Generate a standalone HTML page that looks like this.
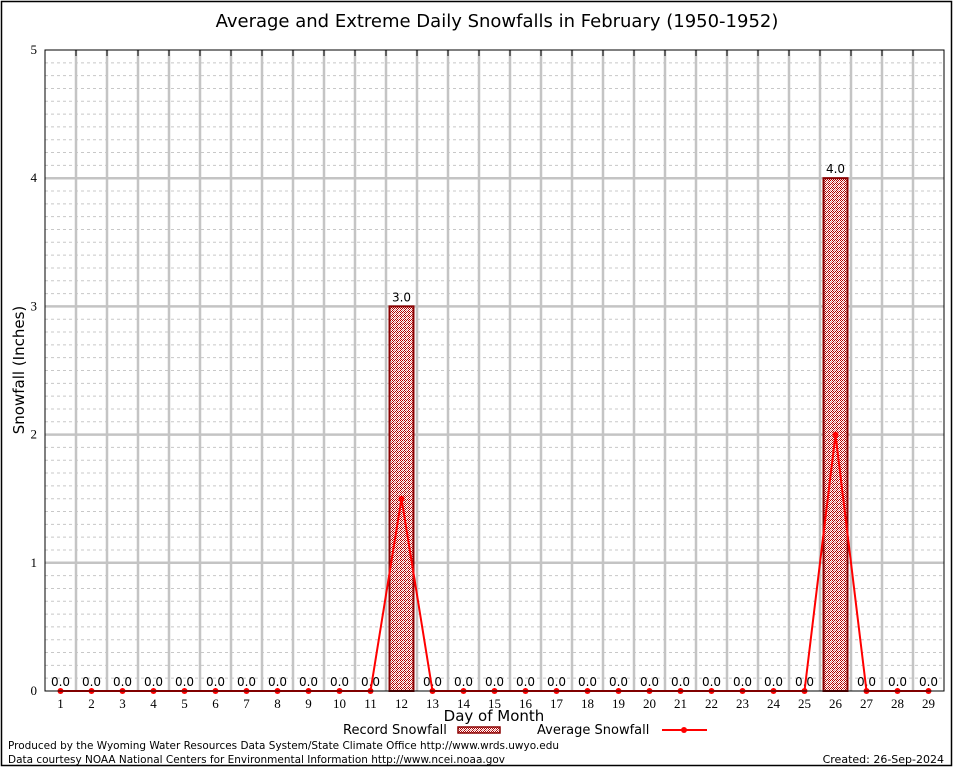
<!DOCTYPE html>
<html><head><meta charset="utf-8">
<style>
html,body{margin:0;padding:0;background:#fff;}
svg{display:block;font-family:"DejaVu Sans","Liberation Sans",sans-serif;}
</style></head>
<body>
<svg id="chart" width="954" height="768" xmlns="http://www.w3.org/2000/svg">
<defs>
<pattern id="dots" width="4" height="4" patternUnits="userSpaceOnUse">
<rect width="4" height="4" fill="#fff"/>
<rect x="0" y="0" width="1" height="1" fill="#b00000"/>
<rect x="2" y="0" width="1" height="1" fill="#b00000"/>
<rect x="1" y="1" width="1" height="1" fill="#b00000"/>
<rect x="3" y="1" width="1" height="1" fill="#e08080"/>
<rect x="0" y="2" width="1" height="1" fill="#b00000"/>
<rect x="2" y="2" width="1" height="1" fill="#e08080"/>
<rect x="1" y="3" width="1" height="1" fill="#b00000"/>
<rect x="3" y="3" width="1" height="1" fill="#b00000"/>
</pattern>
</defs>
<rect x="1.5" y="1.5" width="950" height="764" fill="none" stroke="#000" stroke-width="1.5"/>
<text x="497" y="27" font-size="18" text-anchor="middle">Average and Extreme Daily Snowfalls in February (1950-1952)</text>
<g id="grid"></g>
<g id="marks"></g>
<rect x="45" y="50" width="899" height="641" fill="none" stroke="#000" stroke-width="1"/>
<text transform="translate(24,370) rotate(-90)" font-size="15" text-anchor="middle">Snowfall (Inches)</text>
<text x="494" y="721" font-size="15" text-anchor="middle">Day of Month</text>
<g>
<text x="343" y="734" font-size="13">Record Snowfall</text>
<rect x="458" y="727" width="42" height="6" fill="url(#dots)" stroke="#8b0000" stroke-width="1.5"/>
</g>
<g>
<text x="537" y="734" font-size="13">Average Snowfall</text>
<line x1="662" y1="730" x2="707" y2="730" stroke="#f00" stroke-width="2"/>
<circle cx="684" cy="730" r="3" fill="#f00"/>
</g>
<text x="8" y="749" font-size="11" textLength="551" lengthAdjust="spacingAndGlyphs">Produced by the Wyoming Water Resources Data System/State Climate Office http://www.wrds.uwyo.edu</text>
<text x="8" y="763" font-size="11" textLength="497" lengthAdjust="spacingAndGlyphs">Data courtesy NOAA National Centers for Environmental Information http://www.ncei.noaa.gov</text>
<text x="944" y="763" font-size="11" text-anchor="end">Created: 26-Sep-2024</text>
</svg>
<script>
const days = [1,2,3,4,5,6,7,8,9,10,11,12,13,14,15,16,17,18,19,20,21,22,23,24,25,26,27,28,29];
const recordSnow = [0,0,0,0,0,0,0,0,0,0,0,3.0,0,0,0,0,0,0,0,0,0,0,0,0,0,4.0,0,0,0];
const avgSnow = [0,0,0,0,0,0,0,0,0,0,0,1.5,0,0,0,0,0,0,0,0,0,0,0,0,0,2.0,0,0,0];
const yTicks = [0,1,2,3,4,5];

const NS = "http://www.w3.org/2000/svg";
const L=45,R=944,T=50,B=691,yMax=5;
const xs = d => L + (d-0.5)*(R-L)/days.length;
const ys = v => B - v*(B-T)/yMax;
function mk(tag, attrs, parent){const e=document.createElementNS(NS,tag);for(const k in attrs)e.setAttribute(k,attrs[k]);parent.appendChild(e);return e;}
const grid=document.getElementById('grid'), marks=document.getElementById('marks');

for(let i=1;i<yMax*10;i++){
  if(i%10===0) continue;
  const l=mk('line',{x1:L,x2:R,y1:ys(i/10),y2:ys(i/10),stroke:'#c8c8c8','stroke-dasharray':'3,3','stroke-width':1},grid);
  
  
}
for(let i=1;i<days.length;i++){
  const x=xs(i+0.5);
  const l=mk('line',{x1:x,x2:x,y1:T,y2:B,stroke:'#c4c4c4','stroke-width':2.5},grid);
  
  
  const t1=mk('line',{x1:x,x2:x,y1:T,y2:T+6,stroke:'#000','stroke-width':1},grid);
  
  
}
yTicks.forEach(v=>{
  if(v>0&&v<yMax){
    const l=mk('line',{x1:L,x2:R,y1:ys(v),y2:ys(v),stroke:'#c4c4c4','stroke-width':2.5},grid);
    
    
  }
  const t=mk('text',{x:L-8,y:ys(v)+4,'font-size':13,'text-anchor':'end','font-family':'Liberation Serif, serif'},grid);
  t.textContent=v;
  
  
});
days.forEach((d,i)=>{
  const t=mk('text',{x:xs(d),y:B+17,'font-size':13,'text-anchor':'middle','font-family':'Liberation Serif, serif'},grid);
  t.textContent=d;
  
  
  const v=recordSnow[i];
  if(v>0){
    const w=24;
    const b=mk('rect',{x:xs(d)-w/2,y:ys(v),width:w,height:B-ys(v),fill:'url(#dots)',stroke:'#8b0000','stroke-width':2},marks);
    
    
  }
  const lb=mk('text',{x:xs(d),y:ys(v)-5,'font-size':12,'text-anchor':'middle'},marks);
  lb.textContent=v.toFixed(1);
  
  
});
const pts=days.map((d,i)=>xs(d)+','+ys(avgSnow[i])).join(' ');
const pl=mk('polyline',{points:pts,fill:'none',stroke:'#f00','stroke-width':2},marks);


days.forEach((d,i)=>{
  const c=mk('circle',{cx:xs(d),cy:ys(avgSnow[i]),r:3,fill:'#f00'},marks);
  
  
});
</script>
</body></html>
